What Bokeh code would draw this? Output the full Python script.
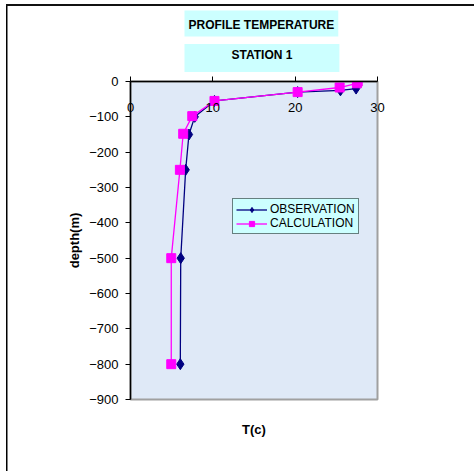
from bokeh.plotting import figure
from bokeh.models import FixedTicker, Range1d, Title, LinearAxis, InlineStyleSheet
from bokeh.embed import file_html
from bokeh.resources import INLINE

# Data
obs_temp = [27.5, 27.4, 25.5, 20.3, 10.2, 7.8, 7.1, 6.7, 6.1, 6.05]
obs_depth = [0, -20, -25, -30, -55, -100, -150, -250, -500, -800]
calc_temp = [27.6, 27.5, 25.4, 20.3, 10.2, 7.5, 6.4, 6.0, 4.95, 4.95]
calc_depth = [0, -5, -17, -30, -55, -98, -148, -250, -500, -800]
x_ticks = [0, 10, 20, 30]
y_ticks = [-900, -800, -700, -600, -500, -400, -300, -200, -100, 0]
title_lines = ["PROFILE TEMPERATURE", "STATION 1"]

FONT = "Liberation Sans"

p = figure(width=474, height=471, output_backend="svg", toolbar_location=None,
           x_axis_location="above", x_range=Range1d(0, 30), y_range=Range1d(-900, 0),
           min_border_left=130, min_border_right=97, min_border_top=81, min_border_bottom=72)
p.background_fill_color = "#dfe9f7"
p.border_fill_color = "white"
p.outline_line_color = "#a0a0a0"
p.outline_line_width = 2
p.xgrid.visible = False
p.ygrid.visible = False

# outer frame lines (page-level decoration, only top and left edges are visible)
p.stylesheets = [InlineStyleSheet(css="""
:host { position: relative; }
:host::after { content: ""; position: absolute; left: 6px; top: 4px; right: 0; bottom: 0;
  z-index: 10; border: none !important; pointer-events: none;
  background: linear-gradient(#111, #111) left top / 100% 2px no-repeat,
              linear-gradient(#000, #000) left top / 1.5px 100% no-repeat !important; }
""")]

# title box: two stacked titles sharing the same cyan box width
tkw = dict(align="left", offset=54, text_font=FONT, text_font_style="bold", text_font_size="12px",
           text_color="black", background_fill_color="#ccffff")
p.add_layout(Title(text=title_lines[1], standoff=19,
                   padding=dict(left=47, right=47, top=4, bottom=10), **tkw), "above")
p.add_layout(Title(text=title_lines[0], standoff=-8,
                   padding=dict(left=4, right=4, top=7, bottom=5), **tkw), "above")

# axes
p.xaxis.ticker = FixedTicker(ticks=x_ticks)
p.yaxis.ticker = FixedTicker(ticks=y_ticks)
for ax in (p.xaxis[0], p.yaxis[0]):
    ax.axis_line_color = "black"
    ax.axis_line_width = 1.5
    ax.major_tick_line_color = "black"
    ax.major_tick_in = 0
    ax.major_tick_out = 5
    ax.minor_tick_line_color = None
    ax.major_label_text_font = FONT
    ax.major_label_text_font_size = "13px"
    ax.major_label_text_color = "black"
p.xaxis.major_label_standoff = -35
p.yaxis.major_label_standoff = 7
p.yaxis.axis_label = "depth(m)"
p.yaxis.axis_label_text_font = FONT
p.yaxis.axis_label_text_font_style = "bold"
p.yaxis.axis_label_text_font_size = "13px"
p.yaxis.axis_label_text_color = "black"
p.yaxis.axis_label_standoff = 4

# x-axis title sits under the plot area
xt = LinearAxis(ticker=FixedTicker(ticks=[]), axis_label="T(c)",
                axis_line_color=None, major_tick_line_color=None, minor_tick_line_color=None,
                axis_label_text_font=FONT, axis_label_text_font_style="bold",
                axis_label_text_font_size="13px", axis_label_text_color="black",
                axis_label_standoff=22)
p.add_layout(xt, "below")

# series
p.line(obs_temp, obs_depth, color="#000080", line_width=1.3, legend_label="OBSERVATION")
p.scatter(obs_temp, obs_depth, marker="diamond", size=11, color="#000080", legend_label="OBSERVATION")
p.line(calc_temp, calc_depth, color="#ff00ff", line_width=1.3, legend_label="CALCULATION")
p.scatter(calc_temp, calc_depth, marker="square", size=9, color="#ff00ff", legend_label="CALCULATION")

lg = p.legend[0]
lg.location = (102, 165)
lg.background_fill_color = "#ccffff"
lg.background_fill_alpha = 1
lg.border_line_color = "black"
lg.border_line_width = 1
lg.label_text_font = FONT
lg.label_text_font_size = "12px"
lg.label_text_color = "black"
lg.glyph_width = 31
lg.glyph_height = 13
lg.label_height = 13
lg.label_standoff = 3
lg.spacing = 0
lg.padding = 3
lg.margin = 0

open("out.html", "w").write(file_html(p, INLINE))
